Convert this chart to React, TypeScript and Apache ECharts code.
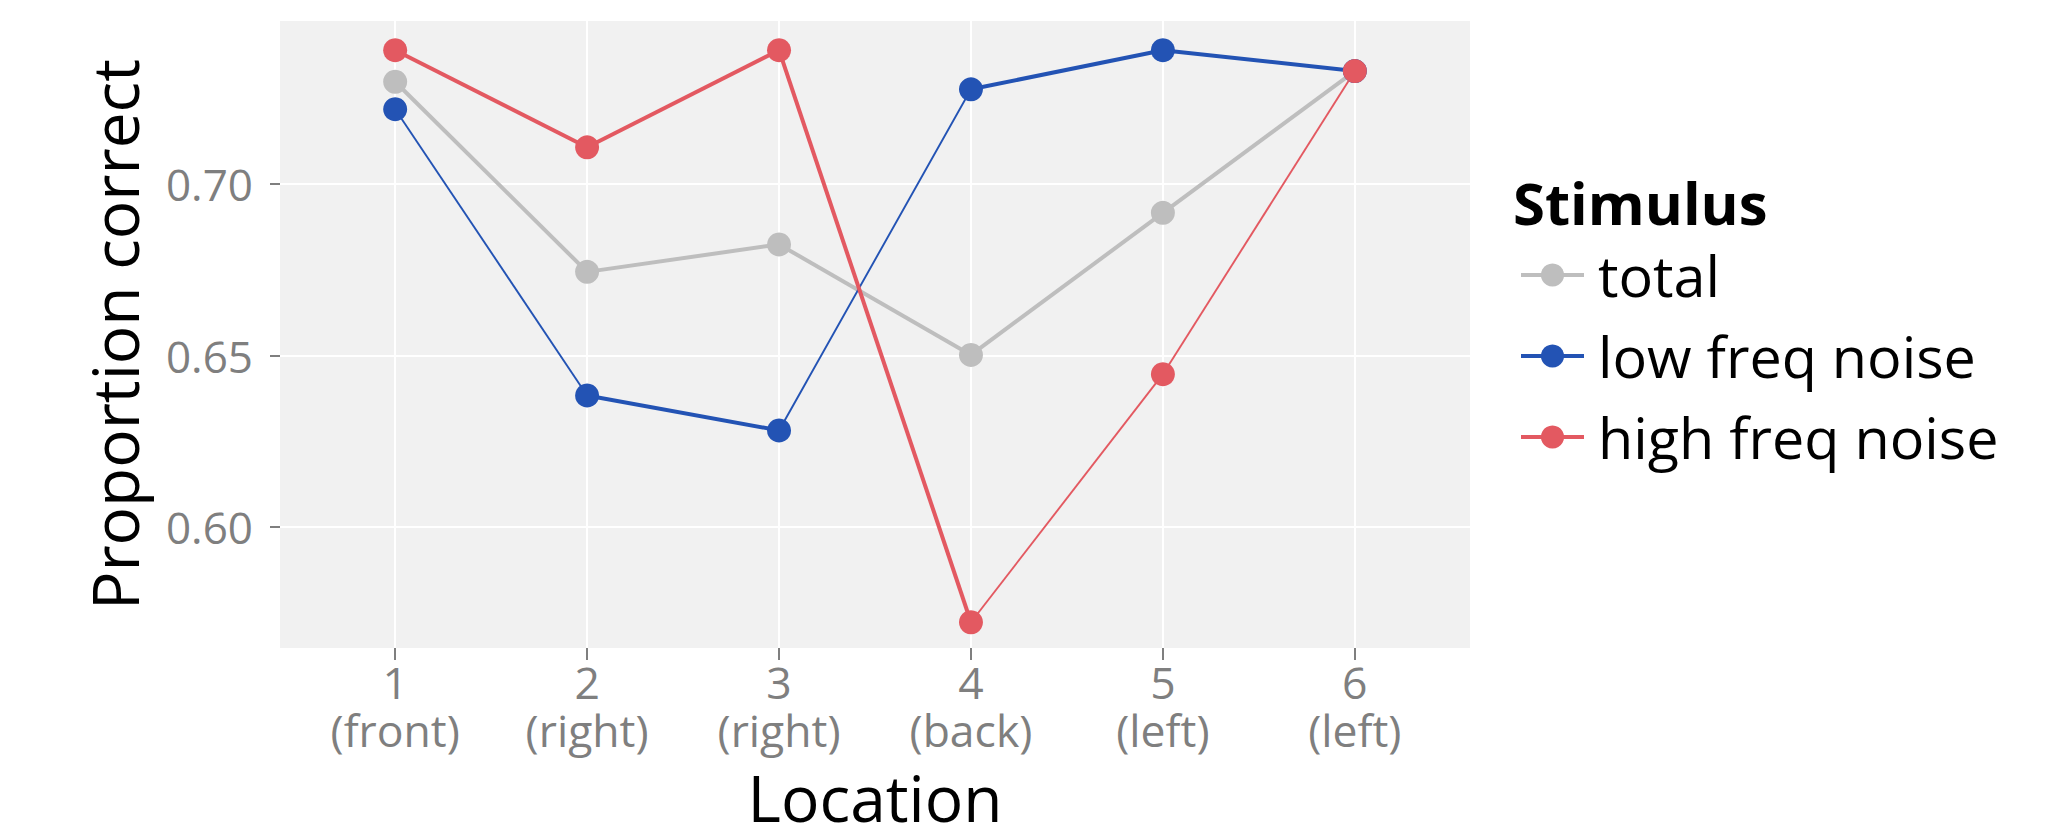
import React, { useEffect, useRef } from 'react';
import * as echarts from 'echarts';

// ---- data ----
const categories = [1, 2, 3, 4, 5, 6];
const tickNumbers = ['1', '2', '3', '4', '5', '6'];
const tickSides = ['(front)', '(right)', '(right)', '(back)', '(left)', '(left)'];
const seriesNames = ['total', 'low freq noise', 'high freq noise'];
const totalValues = [0.7298, 0.6744, 0.6824, 0.6502, 0.6916, 0.7329];
const lowFreqValues = [0.7218, 0.6384, 0.6282, 0.7276, 0.739, 0.7329];
const highFreqValues = [0.739, 0.7107, 0.739, 0.5723, 0.6446, 0.7329];
const yTicks = [0.6, 0.65, 0.7];

// ---- styles ----
const GRAY = '#BEBEBE';
const BLUE = '#2353B4';
const RED = '#E35961';
const THICK = 4;
const THIN = 1.9;
const totalWidths = [THICK, THICK, THICK, THICK, THICK];
const lowWidths = [THIN, THICK, THIN, THICK, THICK];
const highWidths = [THICK, THICK, THICK, THIN, THIN];
const AXIS_GRAY = '#7F7F7F';
const FONT = '"Open Sans", "DejaVu Sans", sans-serif';

export default function App() {
  const ref = useRef<HTMLDivElement>(null);

  useEffect(() => {
    if (!ref.current) return;
    const chart = echarts.init(ref.current, null, { renderer: 'svg' });

    const groups = [
      { name: seriesNames[0], values: totalValues, color: GRAY, widths: totalWidths },
      { name: seriesNames[1], values: lowFreqValues, color: BLUE, widths: lowWidths },
      { name: seriesNames[2], values: highFreqValues, color: RED, widths: highWidths },
    ];

    const series: any[] = [];
    // point series (also used for the legend)
    groups.forEach((g) => {
      series.push({
        type: 'line',
        name: g.name,
        data: categories.map((c, i) => [c, g.values[i]]),
        symbol: 'circle',
        symbolSize: 24,
        showSymbol: true,
        itemStyle: { color: g.color, opacity: 1 },
        lineStyle: { color: g.color, width: 0, opacity: 0 },
        emphasis: { disabled: true },
        z: 5,
      });
    });
    // line segments with individual widths
    groups.forEach((g) => {
      for (let i = 0; i < categories.length - 1; i++) {
        series.push({
          type: 'line',
          name: g.name,
          data: [
            [categories[i], g.values[i]],
            [categories[i + 1], g.values[i + 1]],
          ],
          symbol: 'none',
          showSymbol: false,
          itemStyle: { color: g.color },
          lineStyle: { color: g.color, width: g.widths[i] },
          emphasis: { disabled: true },
          z: 3,
        });
      }
    });

    chart.setOption({
      animation: false,
      backgroundColor: '#FFFFFF',
      textStyle: { fontFamily: FONT },
      grid: {
        left: 280,
        right: 590,
        top: 21,
        bottom: 179,
        show: true,
        backgroundColor: '#F1F1F1',
        borderWidth: 0,
        containLabel: false,
      },
      xAxis: {
        type: 'value',
        min: 0.4,
        max: 6.6,
        name: 'Location',
        nameLocation: 'middle',
        nameGap: 127,
        nameTextStyle: { fontSize: 64, lineHeight: 44, color: '#000000', fontFamily: FONT },
        axisLine: { show: false },
        axisTick: {
          show: true,
          length: 12,
          customValues: categories,
          lineStyle: { color: AXIS_GRAY, width: 2 },
        },
        axisLabel: {
          customValues: categories,
          formatter: (v: number) => {
            const i = categories.indexOf(v);
            return i < 0 ? '' : `${tickNumbers[i]}\n${tickSides[i]}`;
          },
          fontSize: 44.5,
          lineHeight: 48,
          color: AXIS_GRAY,
          fontFamily: FONT,
          margin: 9,
        },
        splitLine: { show: true, lineStyle: { color: '#FFFFFF', width: 2 } },
      },
      yAxis: {
        type: 'value',
        min: 0.5648,
        max: 0.7475,
        name: 'Proportion correct',
        nameLocation: 'middle',
        nameGap: 134,
        nameRotate: 90,
        nameTextStyle: { fontSize: 64, color: '#000000', fontFamily: FONT },
        axisLine: { show: false },
        axisTick: {
          show: true,
          length: 10,
          customValues: yTicks,
          lineStyle: { color: AXIS_GRAY, width: 2 },
        },
        axisLabel: {
          customValues: yTicks,
          formatter: (v: number) => v.toFixed(2),
          fontSize: 44,
          color: AXIS_GRAY,
          fontFamily: FONT,
          margin: 27,
        },
        splitLine: { show: true, lineStyle: { color: '#FFFFFF', width: 2 } },
      },
      legend: {
        orient: 'vertical',
        left: 1519,
        top: 246,
        padding: 0,
        itemGap: 23,
        itemWidth: 63,
        itemHeight: 29,
        selectedMode: false,
        data: seriesNames,
        textStyle: {
          fontFamily: FONT,
          fontSize: 57.5,
          lineHeight: 58,
          color: '#000000',
          padding: [0, 0, 0, 9],
        },
        lineStyle: { width: 4, opacity: 1 },
        itemStyle: { opacity: 1 },
      },
      graphic: [
        {
          type: 'text',
          x: 1513,
          y: 202,
          style: {
            text: 'Stimulus',
            fontFamily: FONT,
            fontSize: 58,
            fontWeight: 'bold',
            fill: '#000000',
            align: 'left',
            verticalAlign: 'middle',
          },
        },
      ],
      series,
    });

    return () => chart.dispose();
  }, []);

  return (
    <div
      ref={ref}
      style={{ position: 'absolute', left: 0, top: 0, width: 2060, height: 834 }}
    />
  );
}
